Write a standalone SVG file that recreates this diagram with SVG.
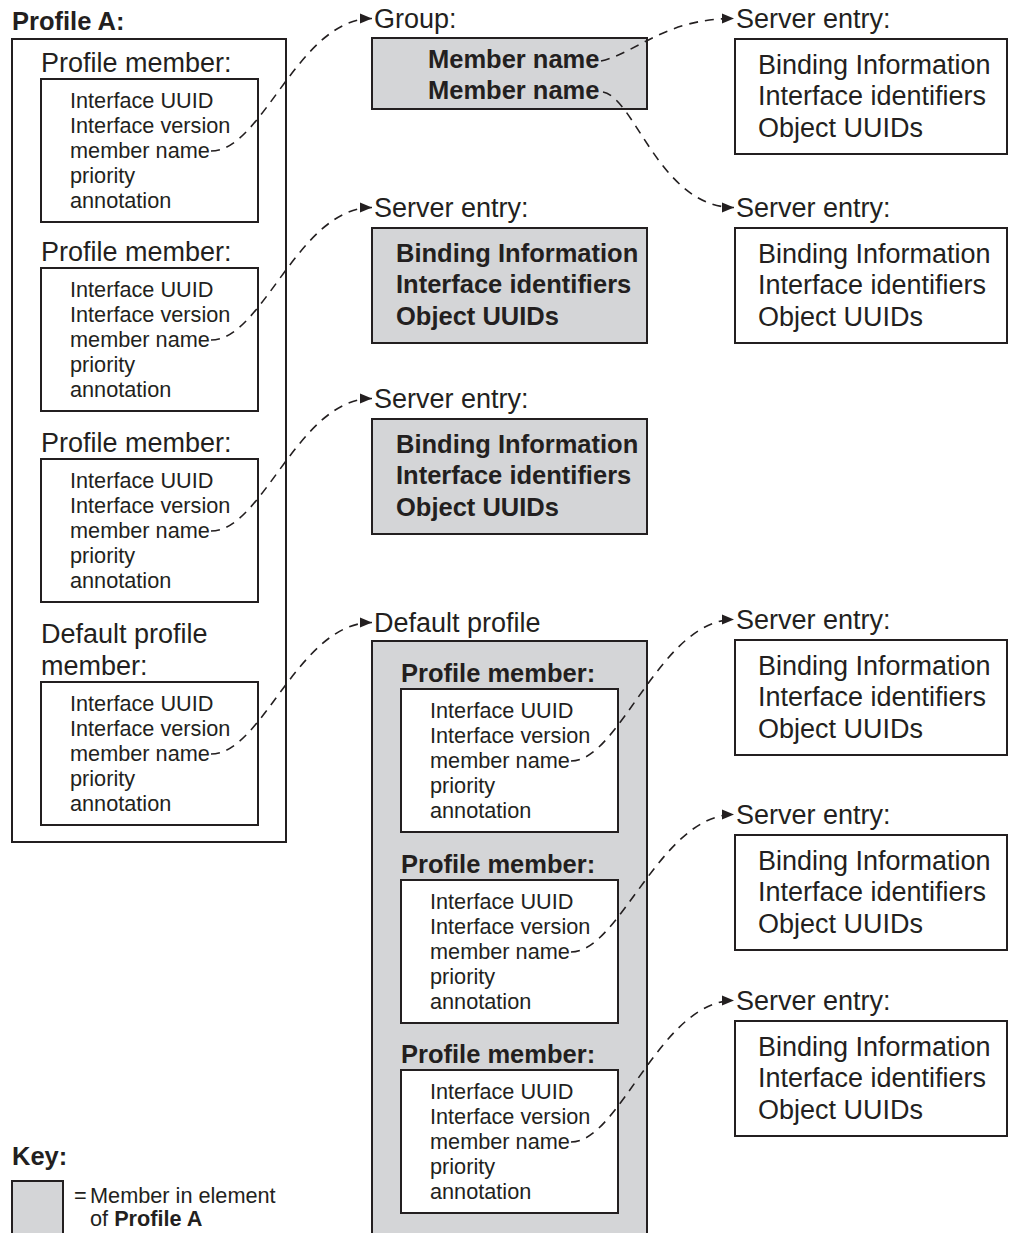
<svg xmlns="http://www.w3.org/2000/svg" width="1009" height="1233" viewBox="0 0 1009 1233">
<defs>
<style>
.t{font-family:"Liberation Sans",Arial,Helvetica,sans-serif;fill:#231f20}
.big{font-size:27px}
.bold{font-size:25.5px;font-weight:bold}
.sm{font-size:21.7px}
.box{fill:#ffffff;stroke:#231f20;stroke-width:2}
.gray{fill:#d4d5d7;stroke:#231f20;stroke-width:2}
.conn{fill:none;stroke:#231f20;stroke-width:1.6;stroke-dasharray:9 7;marker-end:url(#arr)}
</style>
<marker id="arr" markerUnits="userSpaceOnUse" markerWidth="13" markerHeight="11" refX="12" refY="5.5" orient="auto">
<path d="M0,0.5 L12,5.5 L0,10.5 z" fill="#231f20"/>
</marker>
</defs>
<rect width="1009" height="1233" fill="#ffffff"/>

<!-- Profile A -->
<g id="profileA">
<text class="t bold" x="12" y="30">Profile A:</text>
<rect class="box" x="12" y="39" width="274" height="803"/>
</g>

<g id="pm1">
<text class="t big" x="41" y="72">Profile member:</text>
<rect class="box" x="41" y="79" width="217" height="143"/>
<text class="t sm" x="70" y="108">Interface UUID</text>
<text class="t sm" x="70" y="133">Interface version</text>
<text class="t sm" x="70" y="158">member name</text>
<text class="t sm" x="70" y="183">priority</text>
<text class="t sm" x="70" y="208">annotation</text>
</g>

<g id="pm2">
<text class="t big" x="41" y="261">Profile member:</text>
<rect class="box" x="41" y="268" width="217" height="143"/>
<text class="t sm" x="70" y="297">Interface UUID</text>
<text class="t sm" x="70" y="322">Interface version</text>
<text class="t sm" x="70" y="347">member name</text>
<text class="t sm" x="70" y="372">priority</text>
<text class="t sm" x="70" y="397">annotation</text>
</g>

<g id="pm3">
<text class="t big" x="41" y="452">Profile member:</text>
<rect class="box" x="41" y="459" width="217" height="143"/>
<text class="t sm" x="70" y="488">Interface UUID</text>
<text class="t sm" x="70" y="513">Interface version</text>
<text class="t sm" x="70" y="538">member name</text>
<text class="t sm" x="70" y="563">priority</text>
<text class="t sm" x="70" y="588">annotation</text>
</g>

<g id="pmDefault">
<text class="t big" x="41" y="643">Default profile</text>
<text class="t big" x="41" y="675">member:</text>
<rect class="box" x="41" y="682" width="217" height="143"/>
<text class="t sm" x="70" y="711">Interface UUID</text>
<text class="t sm" x="70" y="736">Interface version</text>
<text class="t sm" x="70" y="761">member name</text>
<text class="t sm" x="70" y="786">priority</text>
<text class="t sm" x="70" y="811">annotation</text>
</g>

<!-- Middle column -->
<g id="group">
<text class="t big" x="374" y="28">Group:</text>
<rect class="gray" x="372" y="38" width="275" height="71"/>
<text class="t bold" x="428" y="68">Member name</text>
<text class="t bold" x="428" y="99">Member name</text>
</g>

<g id="serverA">
<text class="t big" x="374" y="217">Server entry:</text>
<rect class="gray" x="372" y="228" width="275" height="115"/>
<text class="t bold" x="396" y="262">Binding Information</text>
<text class="t bold" x="396" y="293.3">Interface identifiers</text>
<text class="t bold" x="396" y="324.6">Object UUIDs</text>
</g>

<g id="serverB">
<text class="t big" x="374" y="408">Server entry:</text>
<rect class="gray" x="372" y="419" width="275" height="115"/>
<text class="t bold" x="396" y="453">Binding Information</text>
<text class="t bold" x="396" y="484.3">Interface identifiers</text>
<text class="t bold" x="396" y="515.6">Object UUIDs</text>
</g>

<g id="defaultProfile">
<text class="t big" x="374" y="632">Default profile</text>
<rect class="gray" x="372" y="641" width="275" height="610"/>
</g>

<g id="dpm1">
<text class="t bold" x="401" y="682">Profile member:</text>
<rect class="box" x="401" y="689" width="217" height="143"/>
<text class="t sm" x="430" y="718">Interface UUID</text>
<text class="t sm" x="430" y="743">Interface version</text>
<text class="t sm" x="430" y="768">member name</text>
<text class="t sm" x="430" y="793">priority</text>
<text class="t sm" x="430" y="818">annotation</text>
</g>

<g id="dpm2">
<text class="t bold" x="401" y="873">Profile member:</text>
<rect class="box" x="401" y="880" width="217" height="143"/>
<text class="t sm" x="430" y="909">Interface UUID</text>
<text class="t sm" x="430" y="934">Interface version</text>
<text class="t sm" x="430" y="959">member name</text>
<text class="t sm" x="430" y="984">priority</text>
<text class="t sm" x="430" y="1009">annotation</text>
</g>

<g id="dpm3">
<text class="t bold" x="401" y="1063">Profile member:</text>
<rect class="box" x="401" y="1070" width="217" height="143"/>
<text class="t sm" x="430" y="1099">Interface UUID</text>
<text class="t sm" x="430" y="1124">Interface version</text>
<text class="t sm" x="430" y="1149">member name</text>
<text class="t sm" x="430" y="1174">priority</text>
<text class="t sm" x="430" y="1199">annotation</text>
</g>

<!-- Right column -->
<g id="server1">
<text class="t big" x="736" y="28">Server entry:</text>
<rect class="box" x="735" y="39" width="272" height="115"/>
<text class="t big" x="758" y="74">Binding Information</text>
<text class="t big" x="758" y="105.3">Interface identifiers</text>
<text class="t big" x="758" y="136.6">Object UUIDs</text>
</g>

<g id="server2">
<text class="t big" x="736" y="217">Server entry:</text>
<rect class="box" x="735" y="228" width="272" height="115"/>
<text class="t big" x="758" y="263">Binding Information</text>
<text class="t big" x="758" y="294.3">Interface identifiers</text>
<text class="t big" x="758" y="325.6">Object UUIDs</text>
</g>

<g id="server3">
<text class="t big" x="736" y="629">Server entry:</text>
<rect class="box" x="735" y="640" width="272" height="115"/>
<text class="t big" x="758" y="675">Binding Information</text>
<text class="t big" x="758" y="706.3">Interface identifiers</text>
<text class="t big" x="758" y="737.6">Object UUIDs</text>
</g>

<g id="server4">
<text class="t big" x="736" y="824">Server entry:</text>
<rect class="box" x="735" y="835" width="272" height="115"/>
<text class="t big" x="758" y="870">Binding Information</text>
<text class="t big" x="758" y="901.3">Interface identifiers</text>
<text class="t big" x="758" y="932.6">Object UUIDs</text>
</g>

<g id="server5">
<text class="t big" x="736" y="1010">Server entry:</text>
<rect class="box" x="735" y="1021" width="272" height="115"/>
<text class="t big" x="758" y="1056">Binding Information</text>
<text class="t big" x="758" y="1087.3">Interface identifiers</text>
<text class="t big" x="758" y="1118.6">Object UUIDs</text>
</g>

<!-- Key -->
<g id="key">
<text class="t bold" x="12" y="1165">Key:</text>
<rect class="gray" x="12" y="1181" width="51" height="70"/>
<text class="t sm" y="1203"><tspan x="74">=</tspan><tspan x="90">Member in element</tspan></text>
<text class="t sm" x="90" y="1226">of <tspan font-weight="bold">Profile A</tspan></text>
</g>

<!-- Connectors -->
<g id="connectors">
<path class="conn" d="M211,151 C263,151 298,18.5 372,18.5"/>
<path class="conn" d="M211,340 C263,340 298,207.5 372,207.5"/>
<path class="conn" d="M211,531 C263,531 298,398.5 372,398.5"/>
<path class="conn" d="M211,754 C263,754 298,622.5 372,622.5"/>
<path class="conn" d="M601,61 C638,52 665,18.5 734,18.5"/>
<path class="conn" d="M603,92 C635,98 660,207.5 734,207.5"/>
<path class="conn" d="M571,761 C620,761 660,619.5 734,619.5"/>
<path class="conn" d="M571,952 C620,952 660,814.5 734,814.5"/>
<path class="conn" d="M571,1142 C620,1142 660,1000.5 734,1000.5"/>
</g>
</svg>
